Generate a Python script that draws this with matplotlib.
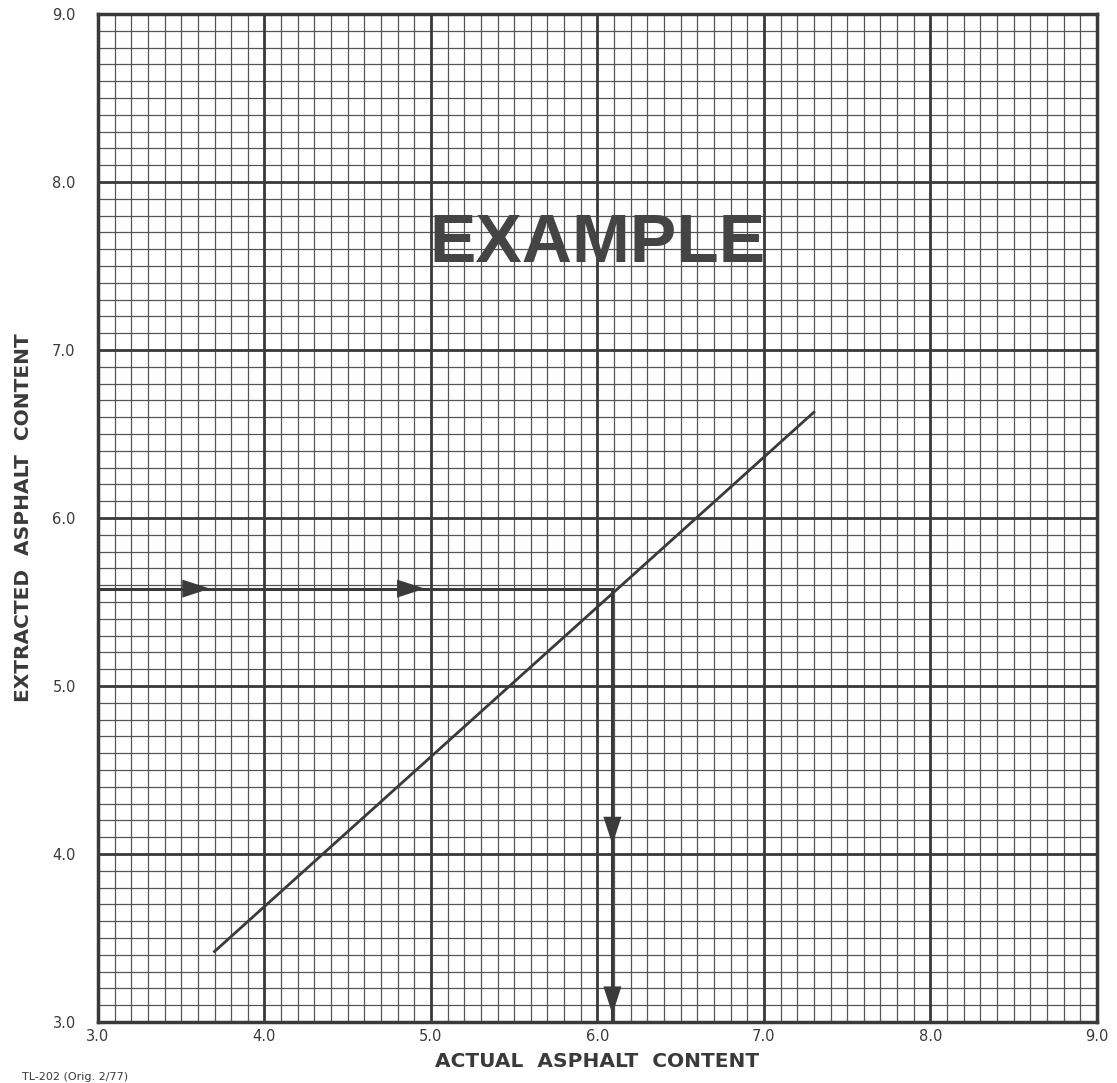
import numpy as np
import matplotlib.pyplot as plt

# calibration line
actual = [3.70, 7.30]
extracted = [3.42, 6.63]

# reading example: extracted 5.6 -> actual 6.1
read_y = 5.58
read_x = 6.09
h_arrows = [3.69, 4.98]   # tips of the horizontal arrowheads
v_arrows = [4.04, 3.03]   # tips of the vertical arrowheads

ticks = [3.0, 4.0, 5.0, 6.0, 7.0, 8.0, 9.0]
tick_labels = ['3.0', '4.0', '5.0', '6.0', '7.0', '8.0', '9.0']

ink = '#3a3a3a'

fig = plt.figure(figsize=(11.17, 10.83), dpi=100)
ax = fig.add_axes([0.0877, 0.0563, 0.8943, 0.9307])
ax.set_xlim(3, 9)
ax.set_ylim(3, 9)

# graph paper: 0.1 minor, 1.0 major
minor = np.arange(3.0, 9.01, 0.1)
for v in minor:
    ax.axvline(v, color='#555555', lw=0.9, zorder=1)
    ax.axhline(v, color='#555555', lw=0.9, zorder=1)
for v in ticks:
    ax.axvline(v, color=ink, lw=2.0, zorder=2)
    ax.axhline(v, color=ink, lw=2.0, zorder=2)

for s in ax.spines.values():
    s.set_linewidth(2.5)
    s.set_color(ink)

ax.set_xticks(ticks)
ax.set_yticks(ticks)
ax.set_xticklabels(tick_labels, fontsize=10.5, color=ink)
ax.set_yticklabels(tick_labels, fontsize=10.5, color=ink)
ax.tick_params(axis='x', length=0, pad=5)
ax.tick_params(axis='y', length=0, pad=16)

ax.set_xlabel('ACTUAL  ASPHALT  CONTENT', fontsize=14.5, fontweight='bold',
              color=ink, labelpad=6)
ax.set_ylabel('EXTRACTED  ASPHALT  CONTENT', fontsize=14.5, fontweight='bold',
              color=ink, labelpad=14)

# the line
ax.plot(actual, extracted, color=ink, lw=2.0, zorder=5)

# reading arrows
ax.plot([3.0, read_x], [read_y, read_y], color=ink, lw=2.2, zorder=5)
ax.plot([read_x, read_x], [read_y, 3.0], color=ink, lw=2.2, zorder=5)
head = '-|>,head_length=2.0,head_width=0.65'
for t in h_arrows:
    ax.annotate('', xy=(t, read_y), xytext=(t - 0.2, read_y),
                arrowprops=dict(arrowstyle=head, color=ink, lw=0), zorder=6)
for t in v_arrows:
    ax.annotate('', xy=(read_x, t), xytext=(read_x, t + 0.2),
                arrowprops=dict(arrowstyle=head, color=ink, lw=0), zorder=6)

ax.text(6.0, 7.63, 'EXAMPLE', fontsize=50, fontweight='bold', family='Liberation Sans',
        color='#444444', ha='center', va='center', zorder=7)

fig.text(0.02, 0.001, 'TL-202 (Orig. 2/77)', fontsize=8, color=ink, va='bottom')

fig.savefig('out.png', dpi=100)
